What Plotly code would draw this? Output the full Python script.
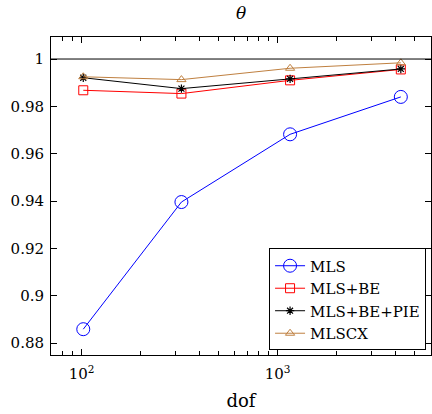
import plotly.graph_objects as go

dof = [102, 323, 1157, 4247]
mls = [0.8859, 0.9396, 0.9682, 0.9840]
mls_be = [0.9868, 0.9854, 0.9910, 0.9956]
mls_be_pie = [0.9921, 0.9875, 0.9916, 0.9958]
mlscx = [0.9925, 0.9913, 0.9961, 0.9984]

x_major = [100, 1000]
x_major_text = ["10<sup>2</sup>", "10<sup>3</sup>"]
x_minor = [70, 80, 90, 200, 300, 400, 500, 600, 700, 800, 900, 2000, 3000, 4000, 5000, 6000]
y_ticks = [0.88, 0.9, 0.92, 0.94, 0.96, 0.98, 1.0]
y_text = ["0.88", "0.9", "0.92", "0.94", "0.96", "0.98", "1"]

FONT = "DejaVu Serif"
XR = [1.844, 3.782]
fig = go.Figure()

fig.add_trace(go.Scatter(x=dof, y=mls, name="MLS", mode="lines+markers",
                         line=dict(color="#0000ff", width=1),
                         marker=dict(symbol="circle-open", size=13, color="#0000ff", line=dict(width=1))))
fig.add_trace(go.Scatter(x=dof, y=mls_be, name="MLS+BE", mode="lines+markers",
                         line=dict(color="#ff0000", width=1),
                         marker=dict(symbol="square-open", size=9, color="#ff0000", line=dict(width=1))))
fig.add_trace(go.Scatter(x=dof, y=mls_be_pie, name="MLS+BE+PIE", mode="lines+markers",
                         line=dict(color="#000000", width=1),
                         marker=dict(symbol="asterisk-open", size=7, color="#000000", line=dict(width=1.2, color="#000000"))))
fig.add_trace(go.Scatter(x=dof, y=mlscx, name="MLSCX", mode="lines+markers",
                         line=dict(color="#bf8040", width=1),
                         marker=dict(symbol="triangle-up-open", size=8, color="#bf8040", line=dict(width=1))))

fig.add_hline(y=1, line=dict(color="black", width=1))

minor_axis = dict(type="log", range=XR, overlaying="x", anchor="y",
                  tickmode="array", tickvals=x_minor, showticklabels=False,
                  ticks="inside", ticklen=4, tickwidth=1, tickcolor="black",
                  showline=False, showgrid=False, zeroline=False)

fig.update_layout(
    width=432, height=414,
    margin=dict(l=51, r=1, t=37, b=59),
    paper_bgcolor="white", plot_bgcolor="white",
    font=dict(family=FONT, size=15, color="black"),
    title=dict(text="<i>θ</i>", x=0.558, xanchor="center", y=0.968, yanchor="middle",
               font=dict(size=17)),
    showlegend=True,
    legend=dict(x=0.987, y=0.335, xanchor="right", yanchor="top",
                bordercolor="black", borderwidth=1, bgcolor="white",
                tracegroupgap=0, itemwidth=30),
    xaxis=dict(type="log", range=XR,
               title=dict(text="dof", standoff=12),
               tickmode="array", tickvals=x_major, ticktext=x_major_text,
               ticklabelstandoff=5,
               ticks="inside", ticklen=6, tickcolor="black", mirror="ticks",
               showline=True, linecolor="black", linewidth=1, showgrid=False, zeroline=False),
    xaxis2=dict(minor_axis, side="bottom"),
    xaxis3=dict(minor_axis, side="top"),
    yaxis=dict(range=[0.875, 1.0093],
               tickmode="array", tickvals=y_ticks, ticktext=y_text,
               ticklabelstandoff=3,
               ticks="inside", ticklen=6, tickcolor="black", mirror="ticks",
               showline=True, linecolor="black", linewidth=1, showgrid=False, zeroline=False),
)
for ax in ["x2", "x3"]:
    fig.add_trace(go.Scatter(x=[dof[0]], y=[mls[0]], xaxis=ax, yaxis="y", mode="markers",
                             marker=dict(opacity=0), showlegend=False, hoverinfo="skip"))

fig.write_html("out.html", config={"displayModeBar": False},
               post_script="document.body.style.margin='0px';")
